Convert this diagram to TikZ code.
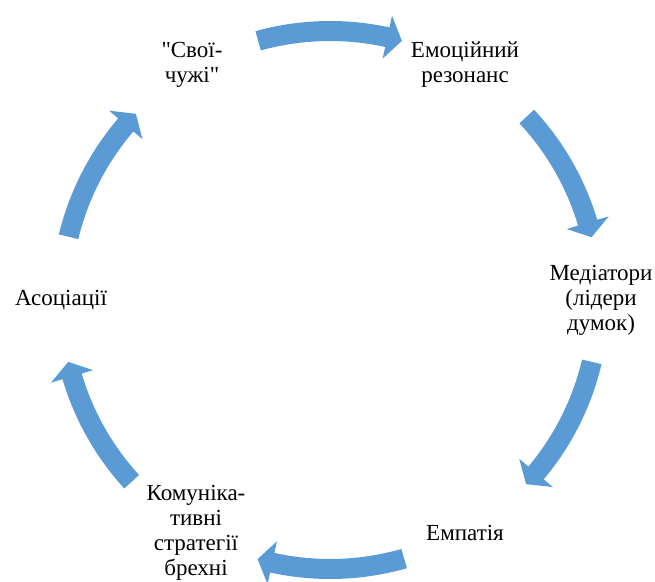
\documentclass[tikz,border=0pt]{standalone}
\usepackage{fontspec}
\setmainfont{Liberation Serif}
\usetikzlibrary{calc}
\definecolor{arrowblue}{HTML}{5B9BD5}

% Curved block arrow on the ring around (c): #1 = tail angle, #2 = tip angle
\newcommand\cyclearrow[2]{%
  \pgfmathsetmacro\hbase{#2+3.2}%
  \fill[cyc] ($(c)+(#1:279)$) arc[start angle=#1, end angle=\hbase, radius=279]
    -- ($(c)+(\hbase:291)$) -- ($(c)+(#2:269)$) -- ($(c)+(\hbase:247)$)
    -- ($(c)+(\hbase:259)$) arc[start angle=\hbase, end angle=#1, radius=259]
    -- cycle;
}

\begin{document}
\begin{tikzpicture}[x=1pt,y=1pt,
  lbl/.style={align=center, font=\fontsize{23}{25}\selectfont, inner sep=0pt},
  cyc/.style={fill=arrowblue, draw=none}]
\useasboundingbox (0,0) rectangle (655,581);
\coordinate (c) at (330,281);

% labels
\node[lbl] (svoi) at (192,516) {\textquotedbl Свої-\\чужі\textquotedbl};
\node[lbl] (emo)  at (465,516) {Емоційний\\резонанс};
\node[lbl] (med)  at (601,281) {Медіатори\\(лідери\\думок)};
\node[lbl] (emp)  at (465,48)  {Емпатія};
\node[lbl] (kom)  at (196,48)  {Комуніка-\\тивні\\стратегії\\брехні};
\node[lbl] (aso)  at (61,281)  {Асоціації};

% arrows of the cycle
\cyclearrow{105.5}{74.5}
\cyclearrow{43}{13.5}
\cyclearrow{-13.3}{-43.2}
\cyclearrow{-74}{-105.6}
\cyclearrow{-137.5}{-166.7}
\cyclearrow{166.4}{136.2}
\end{tikzpicture}
\end{document}
